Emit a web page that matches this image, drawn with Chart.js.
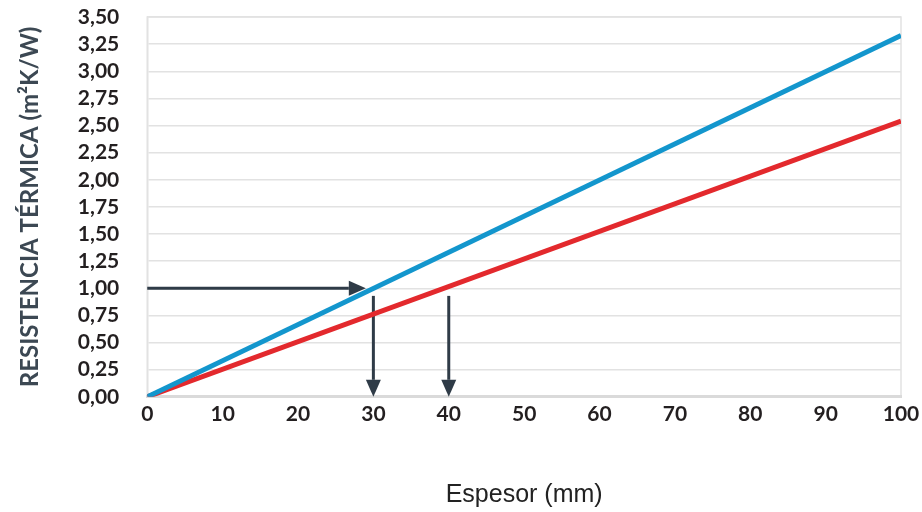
<!DOCTYPE html>
<html>
<head>
<meta charset="utf-8">
<script src="https://cdn.jsdelivr.net/npm/chart.js@4/dist/chart.umd.min.js"></script>
<style>
  html, body { margin: 0; padding: 0; background: #fff; }
  #wrap { width: 922px; height: 512px; }
</style>
</head>
<body>
<div id="wrap"><canvas id="chart"></canvas></div>
<script>
// Data
const thickness = [0, 100]
const resistanceBlue = [0, 3.33]
const resistanceRed = [0, 2.54]

// Arrows (data units)
const arrowRow = 1.0
const arrowRowEnd = 29
const arrowCols = [30, 40]
const arrowColTop = 0.93

const slate = '#2f3b47'

function drawArrow(ctx, x1, y1, x2, y2) {
  const angle = Math.atan2(y2 - y1, x2 - x1)
  const head = 17
  const half = 7.5
  const bx = x2 - Math.cos(angle) * head
  const by = y2 - Math.sin(angle) * head
  ctx.beginPath()
  ctx.moveTo(x1, y1)
  ctx.lineTo(bx, by)
  ctx.stroke()
  ctx.beginPath()
  ctx.moveTo(x2, y2)
  ctx.lineTo(bx - Math.sin(angle) * half, by + Math.cos(angle) * half)
  ctx.lineTo(bx + Math.sin(angle) * half, by - Math.cos(angle) * half)
  ctx.closePath()
  ctx.fill()
}

const arrows = {
  id: 'arrows',
  beforeDatasetsDraw(chart) {
    const { ctx, scales: { x, y } } = chart
    ctx.save()
    ctx.strokeStyle = slate
    ctx.fillStyle = slate
    ctx.lineWidth = 3
    drawArrow(ctx, x.getPixelForValue(0), y.getPixelForValue(arrowRow),
      x.getPixelForValue(arrowRowEnd), y.getPixelForValue(arrowRow))
    arrowCols.forEach((c) => {
      drawArrow(ctx, x.getPixelForValue(c), y.getPixelForValue(arrowColTop),
        x.getPixelForValue(c), y.getPixelForValue(0))
    })
    ctx.restore()
  },
}

const chartAreaBorder = {
  id: 'chartAreaBorder',
  beforeDraw(chart) {
    const { ctx, chartArea: { left, top, width, height } } = chart
    ctx.save()
    ctx.strokeStyle = '#e2e2e2'
    ctx.lineWidth = 1.5
    ctx.strokeRect(left, top, width, height)
    ctx.restore()
  },
}

const tickFont = { family: 'Lato', size: 21, weight: 'bold' }

new Chart(document.getElementById('chart'), {
  type: 'line',
  data: {
    datasets: [
      {
        data: thickness.map((t, i) => ({ x: t, y: resistanceBlue[i] })),
        borderColor: '#1396cd',
        borderWidth: 5,
        pointRadius: 0,
        borderCapStyle: 'butt',
      },
      {
        data: thickness.map((t, i) => ({ x: t, y: resistanceRed[i] })),
        borderColor: '#e3292d',
        borderWidth: 5,
        pointRadius: 0,
        borderCapStyle: 'butt',
      },
    ],
  },
  options: {
    responsive: true,
    maintainAspectRatio: false,
    animation: false,
    layout: { padding: { top: 17, left: 16, right: 0, bottom: 2 } },
    plugins: {
      legend: { display: false },
      tooltip: { enabled: false },
    },
    scales: {
      x: {
        type: 'linear',
        min: 0,
        max: 100,
        afterFit: (scale) => {
          scale.paddingLeft = 0
          scale.paddingRight = 21
        },
        grid: { display: false, drawTicks: false },
        border: { color: '#dadada', width: 3 },
        ticks: {
          stepSize: 10,
          padding: 5,
          color: '#231f20',
          font: tickFont,
          maxRotation: 0,
          autoSkip: false,
        },
        title: {
          display: true,
          text: 'Espesor (mm)',
          color: '#222',
          font: { family: 'Liberation Sans', size: 25 },
          padding: { top: 48, bottom: 0 },
        },
      },
      y: {
        min: 0,
        max: 3.5,
        afterFit: (scale) => {
          scale.paddingTop = 0
          scale.paddingBottom = 0
        },
        grid: { color: '#e2e2e2', lineWidth: 1.5, drawTicks: false },
        border: { color: '#e2e2e2', width: 1.5 },
        ticks: {
          stepSize: 0.25,
          padding: 28,
          color: '#231f20',
          font: tickFont,
          autoSkip: false,
          callback: (v) => v.toFixed(2).replace('.', ','),
        },
        title: {
          display: true,
          text: 'RESISTENCIA TÉRMICA (m²K/W)',
          color: '#3c4853',
          font: { family: 'Lato', size: 24, weight: 'bold' },
          padding: { top: 0, bottom: 5 },
        },
      },
    },
  },
  plugins: [chartAreaBorder, arrows],
})
</script>
</body>
</html>
